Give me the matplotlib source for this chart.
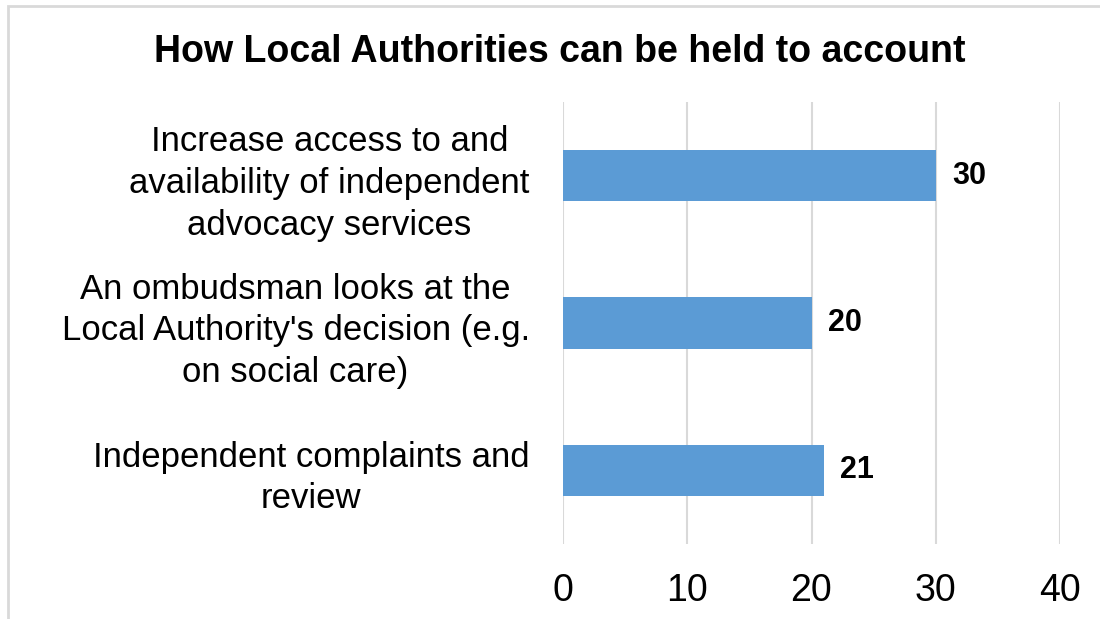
import matplotlib
matplotlib.use("Agg")
import matplotlib.pyplot as plt
from matplotlib.patches import Rectangle

plt.rcParams['font.family'] = ['Liberation Sans', 'DejaVu Sans']

# answers, top to bottom
categories = [
    "Increase access to and\navailability of independent\nadvocacy services",
    "An ombudsman looks at the\nLocal Authority's decision (e.g.\non social care)",
    "Independent complaints and\nreview",
]
counts = [30, 20, 21]
x_ticks = [0, 10, 20, 30, 40]

bar_color = "#5B9BD5"
grid_color = "#D9D9D9"

fig = plt.figure(figsize=(11, 6.19), dpi=100)

# light chart border (runs off the right and bottom edge)
fig.patches.append(Rectangle((8 / 1100, -0.05), 1.1, 1 - 6 / 619 + 0.05,
                             transform=fig.transFigure, fill=False,
                             edgecolor=grid_color, linewidth=2))

ax = fig.add_axes([563 / 1100, 1 - 544 / 619, (1060 - 563) / 1100, (544 - 102) / 619])

ypos = list(range(len(categories)))
ax.barh(ypos, counts, height=0.35, color=bar_color, zorder=3)
for y, v in zip(ypos, counts):
    ax.text(v + 1.3, y, str(v), va='center', ha='left',
            fontsize=22, fontweight='bold', color='black')

ax.set_xlim(0, 40)
ax.set_ylim(len(categories) - 0.5, -0.5)
ax.set_xticks(x_ticks)
ax.set_xticklabels([str(t) for t in x_ticks], fontsize=27)
ax.set_yticks(ypos)
ax.set_yticklabels(categories, fontsize=25, multialignment='center',
                   linespacing=1.33)
ax.tick_params(axis='both', length=0)
ax.tick_params(axis='x', pad=21)
ax.tick_params(axis='y', pad=24)
ax.grid(axis='x', color=grid_color, linewidth=1.5, zorder=0)
for s in ax.spines.values():
    s.set_visible(False)

fig.text(560 / 1100, 1 - 52 / 619, "How Local Authorities can be held to account",
         ha='center', va='center', fontsize=27, fontweight='bold')

fig.savefig("out.png", dpi=100)
